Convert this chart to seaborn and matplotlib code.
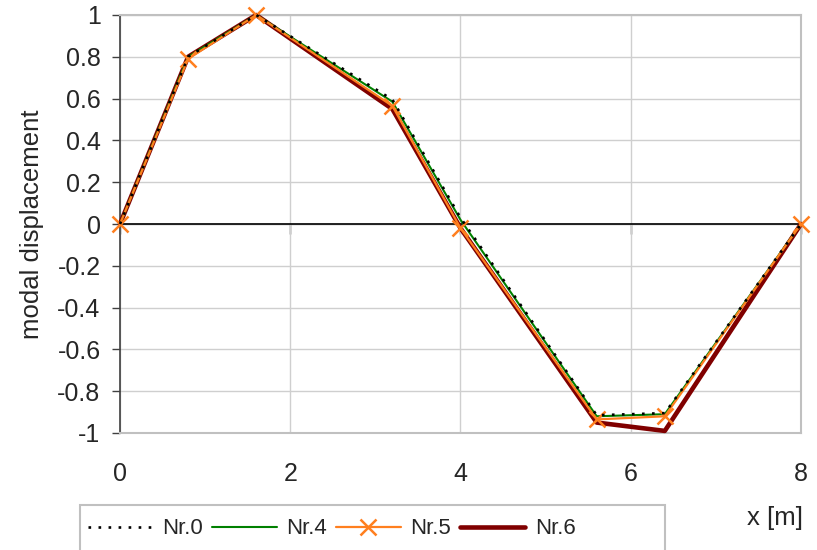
import matplotlib
matplotlib.use("Agg")
import matplotlib.pyplot as plt
from matplotlib.patches import Rectangle
import seaborn as sns
import numpy as np

x_pos = [0.0, 0.8, 1.6, 3.2, 4.0, 5.6, 6.4, 8.0]
nr0 = [0.0, 0.80, 1.0, 0.595, 0.03, -0.915, -0.905, 0.0]
nr4 = [0.0, 0.80, 1.0, 0.585, 0.02, -0.92, -0.91, 0.0]
nr5 = [0.0, 0.79, 1.0, 0.565, -0.02, -0.935, -0.92, 0.0]
nr6 = [0.0, 0.80, 1.0, 0.55, -0.02, -0.95, -0.99, 0.0]
x_ticks = [0, 2, 4, 6, 8]
y_ticks = [-1, -0.8, -0.6, -0.4, -0.2, 0, 0.2, 0.4, 0.6, 0.8, 1]
y_labels = ["-1", "-0.8", "-0.6", "-0.4", "-0.2", "0", "0.2", "0.4", "0.6", "0.8", "1"]

sns.set_style("white")
plt.rcParams['font.family'] = ['Liberation Sans', 'DejaVu Sans']

W, H = 817, 550
fig = plt.figure(figsize=(W/100, H/100), dpi=100)
ax = fig.add_axes([120/W, 1-433/H, (801-120)/W, (433-15)/H])

orange = "#FF7F1E"
sns.lineplot(x=x_pos, y=nr6, ax=ax, color="#800000", lw=3.3, label="Nr.6", zorder=3)
sns.lineplot(x=x_pos, y=nr4, ax=ax, color="#008000", lw=1.5, label="Nr.4", zorder=4)
sns.lineplot(x=x_pos, y=nr5, ax=ax, color=orange, lw=1.6, marker="x", markersize=11.5,
             markeredgewidth=1.8, markeredgecolor=orange, markerfacecolor=orange,
             label="Nr.5", zorder=5)
sns.lineplot(x=x_pos, y=nr0, ax=ax, color="black", lw=1.9, linestyle=(0, (1, 2.8)),
             label="Nr.0", zorder=6)
for ln in ax.get_lines():
    ln.set_dash_capstyle('butt')
    ln.set_clip_on(False)

ax.set_xlim(0, 8)
ax.set_ylim(-1, 1)
ax.set_xticks(x_ticks)
ax.set_xticklabels([str(t) for t in x_ticks])
ax.set_yticks(y_ticks)
ax.set_yticklabels(y_labels)
ax.tick_params(axis='x', length=0, pad=21, labelsize=18)
ax.tick_params(axis='y', length=6, width=1, color='#404040', direction='out',
               labelsize=18, pad=8, left=True)

ax.grid(True, color="#cfcfcf", lw=1)
ax.set_axisbelow(True)
for s in ['top', 'right', 'bottom']:
    ax.spines[s].set_color("#c0c0c0")
    ax.spines[s].set_linewidth(1.5)
ax.spines['left'].set_color("#404040")
ax.spines['left'].set_linewidth(1.2)

ax.axhline(0, color="black", lw=1.2, zorder=2)
sec = ax.secondary_xaxis(0.5)
sec.set_xticks(x_ticks)
sec.set_xticklabels([])
sec.spines['bottom'].set_visible(False)
sec.xaxis.set_ticks_position('bottom')
sec.tick_params(axis='x', direction='out', length=7, width=1, color='#303030')

ax.set_ylabel("modal displacement", fontsize=18.5)
ax.yaxis.set_label_coords((44-120)/681, 0.5)
ax.set_xlabel("")
fig.text(775/W, 1-518/H, "x [m]", fontsize=18.5, ha='center', va='center')

handles, labels = ax.get_legend_handles_labels()
order = [labels.index(n) for n in ["Nr.0", "Nr.4", "Nr.5", "Nr.6"]]
leg = ax.legend([handles[i] for i in order], [labels[i] for i in order], ncol=4,
          loc='center left', bbox_to_anchor=(88/W, 1-529/H), bbox_transform=fig.transFigure,
          fontsize=16, frameon=False,
          handlelength=2.9, handletextpad=0.45, columnspacing=0.4, borderpad=0.0,
          borderaxespad=0.0)
fig.add_artist(Rectangle((80/W, 1-560/H), (665-80)/W, (560-505)/H, transform=fig.transFigure,
                         fill=False, edgecolor="#c0c0c0", lw=1.5, clip_on=False))

fig.savefig("out.png", dpi=100)
